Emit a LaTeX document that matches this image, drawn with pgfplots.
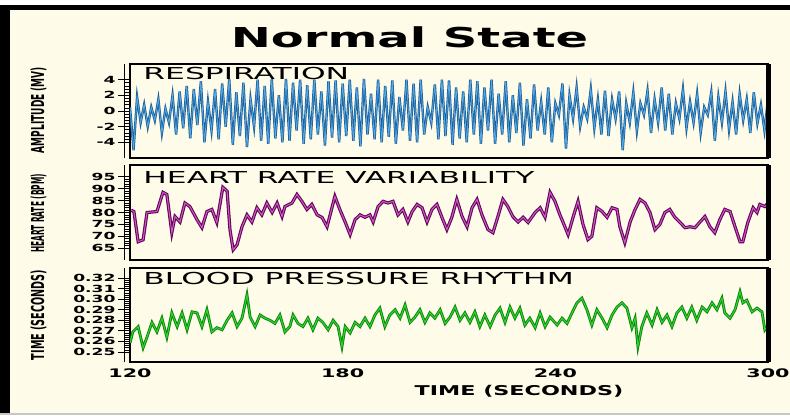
\documentclass[border=0pt]{standalone}
\usepackage{pgfplots}
\pgfplotsset{compat=1.18}
\usepackage{pgfplotstable}
\usepackage{graphicx}
\usepackage{fontspec}
\setmainfont{DejaVu Sans}[FakeStretch=1.75]
\newfontfamily\panelfont{DejaVu Sans}[FakeStretch=1.9]
\newfontfamily\ylabfont{DejaVu Sans}

\definecolor{paper}{RGB}{254,251,232}
\definecolor{respdark}{RGB}{28,95,155}
\definecolor{resplight}{RGB}{85,170,228}
\definecolor{hrdark}{RGB}{95,10,85}
\definecolor{hrlight}{RGB}{215,85,205}
\definecolor{bpdark}{RGB}{15,130,15}
\definecolor{bplight}{RGB}{45,215,45}

% respiration amplitude (mV), one sample per second
\pgfplotstableread{
t v
120 0.5
121 -5.0
122 1.8
123 -1.5
124 0.8
125 -2.0
126 0.5
127 -1.2
128 1.5
129 -2.8
130 0.3
131 -1.5
132 2.0
133 -3.0
134 2.5
135 -2.2
136 3.2
137 -3.5
138 2.8
139 -1.8
140 3.8
141 -4.0
142 1.2
143 -2.5
144 2.8
145 -3.6
146 3.5
147 -2.0
148 4.1
149 -4.3
150 2.4
151 -3.2
152 3.6
153 -4.6
154 1.5
155 -2.0
156 4.0
157 -3.8
158 3.2
159 -4.2
160 4.1
161 -3.5
162 2.0
163 -4.0
164 4.1
165 -3.8
166 3.6
167 -2.5
168 4.0
169 -4.2
170 3.3
171 -3.6
172 4.0
173 -3.0
174 2.5
175 -4.4
176 3.8
177 -3.4
178 3.9
179 -4.0
180 3.5
181 -3.2
182 4.0
183 -3.8
184 3.0
185 -4.5
186 4.1
187 -3.0
188 2.2
189 -3.6
190 4.0
191 -4.0
192 3.2
193 -3.3
194 3.9
195 -4.2
196 1.8
197 -2.5
198 4.0
199 -3.8
200 3.5
201 -4.0
202 4.0
203 -3.0
204 0.5
205 -1.5
206 3.4
207 -3.6
208 4.0
209 -3.2
210 3.9
211 -4.3
212 3.0
213 -3.5
214 2.5
215 -4.0
216 4.0
217 -3.0
218 3.8
219 -4.2
220 3.0
221 -2.5
222 4.0
223 -4.2
224 2.2
225 -3.0
226 3.8
227 -4.0
228 2.0
229 -2.8
230 3.6
231 -4.4
232 1.5
233 -3.5
234 3.4
235 -2.5
236 1.2
237 -3.0
238 3.0
239 -4.0
240 1.0
241 -0.5
242 3.5
243 -4.8
244 2.0
245 -1.0
246 3.0
247 -2.0
248 0.5
249 -1.0
250 2.8
251 -2.2
252 1.5
253 -3.0
254 2.6
255 -3.2
256 1.5
257 -1.0
258 2.5
259 -5.0
260 1.0
261 -1.5
262 2.4
263 -2.6
264 1.0
265 -0.5
266 2.6
267 -2.8
268 1.5
269 -1.5
270 3.0
271 -2.5
272 2.2
273 -3.0
274 1.0
275 -1.0
276 2.8
277 -2.2
278 1.2
279 -1.5
280 2.2
281 -2.8
282 0.5
283 -0.5
284 2.4
285 -3.8
286 1.8
287 -1.5
288 2.5
289 -2.4
290 1.2
291 -3.0
292 2.2
293 -1.2
294 1.5
295 -2.8
296 2.4
297 -1.6
298 0.8
299 -2.5
300 1.5
}\resp

% heart rate (BPM)
\pgfplotstableread{
t v
120.3 81
121.1 80.4
122.3 67.7
123.7 68.5
124.8 80
127.6 80.4
129.3 88.5
130.4 87.6
131.8 71.5
132.7 78.3
134.1 76
135.5 84
136.9 82.5
138.9 77
140.3 73.6
141.7 80.4
143.1 81.3
144.5 75.8
146.2 90.6
147.4 89
148.2 72.8
149.1 64.3
150.2 66.4
151.6 74
153.0 79
154.4 76
155.8 82
157.2 79
158.6 84
160.1 80
161.5 84
162.9 78.3
163.7 82.5
165.7 84
167.1 87.6
168.5 84.7
169.9 81.3
171.3 83.4
172.8 79
174.2 77.9
175.6 74
177.8 86.8
179.2 81.3
180.7 76
182.1 70.7
183.5 77
184.9 79
186.3 78
187.7 79
188.6 76
190.0 82.5
191.4 84.7
192.8 84
194.2 84.7
195.6 79
197.0 81.3
198.4 76
199.6 80.4
201.0 83.4
202.4 82
203.8 76
205.2 81.3
206.6 83.4
208.0 78
209.4 72.8
210.8 78
212.2 85.5
213.7 78.3
215.1 74
216.5 82
217.9 85.5
219.3 79
221.0 72.8
222.4 71.5
223.8 78.3
225.2 85.5
226.6 82.5
228.0 78.3
229.5 76
230.9 78
232.3 75.8
234.3 80
235.7 82
237.1 78
238.5 88.5
239.9 84.7
241.3 79
242.2 75.8
243.6 70.7
245.0 78
246.4 84.7
247.8 75
249.2 68.6
250.3 70
251.7 82
253.2 80.4
254.6 78
256.0 82
257.4 81.3
258.2 74
259.6 67.3
261.1 76
262.5 81.3
263.9 85.5
265.3 84
266.7 80
268.1 72.8
269.5 75
270.9 80
272.3 81.3
273.7 78
275.2 75.8
276.6 73.6
278.0 74
279.4 73.6
280.8 76
282.2 78.3
283.6 74
285.0 71.5
286.4 77
287.8 81.3
289.3 80.4
290.7 74
292.1 67.7
292.9 67.7
294.3 75.8
295.8 82
296.9 80
297.7 83.4
299.1 82.5
300.0 84
}\hr

% blood pressure rhythm (s)
\pgfplotstableread{
t v
120.0 0.2585
120.8 0.269
122.3 0.274
123.7 0.254
124.8 0.264
126.2 0.278
127.6 0.269
129.0 0.282
130.4 0.264
131.8 0.287
133.3 0.274
134.7 0.287
136.1 0.271
137.5 0.288
138.9 0.287
140.3 0.274
141.7 0.290
143.1 0.269
144.5 0.273
146.0 0.271
147.4 0.280
148.8 0.287
150.2 0.274
151.6 0.282
153.0 0.304
153.9 0.283
155.3 0.274
156.7 0.285
158.1 0.282
159.5 0.280
160.9 0.277
162.3 0.285
163.7 0.269
165.1 0.274
166.0 0.285
167.4 0.277
168.8 0.274
170.2 0.282
171.6 0.271
173.0 0.282
174.4 0.278
175.9 0.271
177.3 0.280
178.7 0.274
179.8 0.255
180.7 0.274
182.1 0.268
183.5 0.278
184.9 0.274
186.3 0.282
187.7 0.274
189.1 0.285
190.5 0.2915
191.9 0.274
193.3 0.285
194.8 0.290
196.2 0.282
197.6 0.2945
199.0 0.278
200.4 0.283
201.8 0.290
203.2 0.278
204.6 0.287
206.0 0.282
207.5 0.290
208.9 0.277
210.3 0.283
211.7 0.2925
213.1 0.280
214.5 0.287
215.9 0.278
217.3 0.288
218.7 0.274
220.1 0.285
221.6 0.274
223.0 0.285
224.4 0.2915
225.8 0.278
227.2 0.2925
228.6 0.282
230.0 0.2915
231.4 0.2755
232.8 0.282
234.3 0.273
235.7 0.287
237.1 0.274
238.5 0.283
240.5 0.2755
241.9 0.282
243.3 0.277
244.7 0.287
246.1 0.2965
247.5 0.301
248.9 0.290
250.3 0.2755
251.7 0.290
253.2 0.282
254.6 0.273
256.0 0.285
257.4 0.2925
258.8 0.2965
260.2 0.2915
261.6 0.273
262.5 0.282
263.3 0.255
264.4 0.274
265.8 0.287
267.3 0.2755
268.7 0.290
270.1 0.278
271.5 0.285
272.9 0.274
274.3 0.287
275.7 0.2925
277.1 0.282
278.5 0.2925
279.9 0.280
281.4 0.2925
282.8 0.288
284.2 0.2965
285.6 0.290
287.0 0.301
287.8 0.287
289.3 0.282
290.7 0.290
292.1 0.307
292.9 0.2965
294.0 0.299
295.5 0.288
296.9 0.2915
298.3 0.288
299.1 0.271
299.7 0.274
}\bp

\pgfplotsset{
  panel/.style={
    scale only axis, width=319pt,
    xmin=120, xmax=300,
    axis line style={line width=1.1pt},
    axis background/.style={fill=paper},
    ytick pos=left, tick align=outside,
    major tick length=6pt, minor tick length=3pt,
    every major tick/.append style={line width=0.45pt, black},
    every minor tick/.append style={line width=0.3pt, black},
    minor y tick num=4,
    yticklabel style={font=\bfseries\fontsize{4.9pt}{5pt}\selectfont, inner sep=1pt},
    xtick=\empty,
    extra description/.code={
      \draw[line width=2.5pt] (rel axis cs:1,0) -- (rel axis cs:1,1);
      \draw[line width=0.4pt] ([xshift=-3pt]rel axis cs:0,0) -- ([xshift=-3pt]rel axis cs:0,1);
    },
  },
}

\begin{document}
\begin{tikzpicture}
% page and frame
\path[use as bounding box] (0,0) rectangle (395pt,-208pt);
\fill[paper] (0,0) rectangle (395pt,-208pt);
\fill[white] (0,0) rectangle (395pt,-2.5pt);
\fill[black] (0,-2.5pt) rectangle (395pt,-5pt);
\fill[black] (0,-2.5pt) rectangle (5pt,-206.5pt);
\fill[gray!45] (0,-206.5pt) rectangle (395pt,-207.3pt);
\fill[white] (0,-207.3pt) rectangle (395pt,-208pt);

% respiration
\begin{axis}[panel, at={(65pt,-79pt)}, anchor=south west, height=47pt,
  ymin=-6, ymax=6, ytick={-4,-2,0,2,4}, yticklabels={-4,-2,0,2,4}]
  \addplot[respdark, line width=1.2pt] table {\resp};
  \addplot[resplight, line width=0.4pt] table {\resp};
\end{axis}

% heart rate
\begin{axis}[panel, at={(65pt,-130pt)}, anchor=south west, height=47.5pt,
  ymin=60, ymax=100, ytick={65,70,75,80,85,90,95}, yticklabels={65,70,75,80,85,90,95}]
  \addplot[hrdark, line width=1.6pt] table {\hr};
  \addplot[hrlight, line width=0.5pt] table {\hr};
\end{axis}

% blood pressure
\begin{axis}[panel, at={(65pt,-181pt)}, anchor=south west, height=47pt,
  ymin=0.2405, ymax=0.3295,
  ytick={0.25,0.26,0.27,0.28,0.29,0.30,0.31,0.32},
  yticklabels={0.25,0.26,0.27,0.28,0.29,0.30,0.31,0.32},
  xtick={120,180,240,300}, xticklabels={120,180,240,300},
  xtick style={draw=none},
  xticklabel style={font=\bfseries\fontsize{5.9pt}{6pt}\selectfont, inner sep=0pt, anchor=north, yshift=3pt}]
  \addplot[bpdark, line width=1.4pt] table {\bp};
  \addplot[bplight, line width=0.5pt] table {\bp};
\end{axis}

% titles and labels
\node[anchor=base, inner sep=0pt, font=\bfseries\fontsize{13.7pt}{14pt}\selectfont] at (204.75pt,-24pt) {Normal State};
\node[anchor=base west, inner sep=0pt, font=\panelfont\fontsize{8.25pt}{9pt}\selectfont] at (71.5pt,-40pt) {RESPIRATION};
\node[anchor=base west, inner sep=0pt, font=\panelfont\fontsize{8.25pt}{9pt}\selectfont] at (71.5pt,-91.75pt) {HEART RATE VARIABILITY};
\node[anchor=base west, inner sep=0pt, font=\panelfont\fontsize{8.25pt}{9pt}\selectfont] at (71.5pt,-142.5pt) {BLOOD PRESSURE RHYTHM};
\node[inner sep=0pt, font=\bfseries\fontsize{6.75pt}{7pt}\selectfont] at (259.5pt,-195.5pt) {\scalebox{0.943}[1]{TIME (SECONDS)}};
\node[rotate=90, inner sep=0pt, font=\ylabfont\bfseries\fontsize{8.9pt}{9pt}\selectfont] at (19.25pt,-55pt) {\scalebox{0.506}[1]{AMPLITUDE (MV)}};
\node[rotate=90, inner sep=0pt, font=\ylabfont\bfseries\fontsize{8.9pt}{9pt}\selectfont] at (19.25pt,-106.75pt) {\scalebox{0.416}[1]{HEART RATE (BPM)}};
\node[rotate=90, inner sep=0pt, font=\ylabfont\bfseries\fontsize{8.9pt}{9pt}\selectfont] at (19.25pt,-157.5pt) {\scalebox{0.54}[1]{TIME (SECONDS)}};
\end{tikzpicture}
\end{document}
